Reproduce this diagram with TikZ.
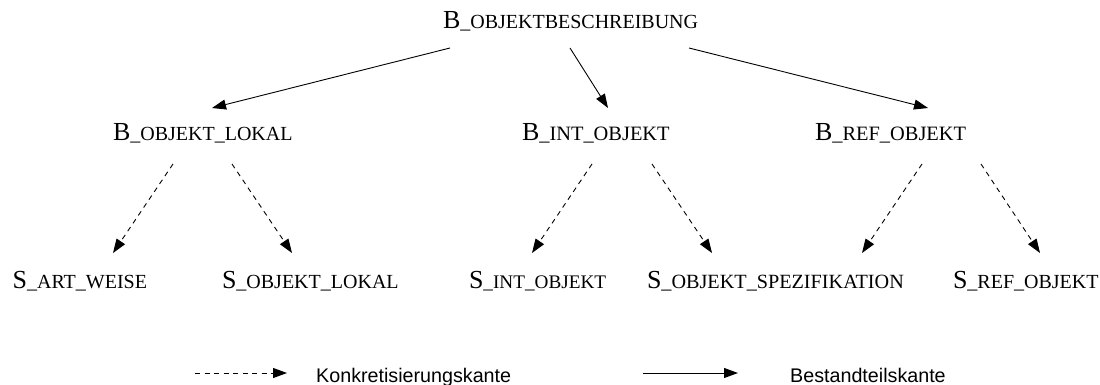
\documentclass[tikz,border=0pt]{standalone}
\usepackage{fontspec}
\setmainfont{Liberation Serif}
\newfontfamily\legendfont{Liberation Sans}
\usetikzlibrary{arrows.meta}
\newcommand{\lbl}[3][20]{{\fontsize{26}{26}\selectfont #2}{\fontsize{#1}{#1}\selectfont\_#3}}
\tikzset{
  lab/.style={anchor=base west, inner sep=0pt, outer sep=0pt},
  leg/.style={anchor=base west, inner sep=0pt, font=\legendfont\fontsize{19.7}{20}\selectfont},
  solidarrow/.style={line width=0.9pt, -{Triangle[length=14pt,width=10pt]}},
  dasharrow/.style={line width=0.9pt, dash pattern=on 5pt off 4.5pt, -{Triangle[length=14pt,width=10pt]}},
}
\begin{document}
\begin{tikzpicture}[x=1pt,y=-1pt]
\useasboundingbox (0,0) rectangle (1100,385);
% nodes
\node[lab] (top) at (443,29) {\lbl{B}{OBJEKTBESCHREIBUNG}};
\node[lab] (lokal) at (113,140) {\lbl{B}{OBJEKT\_LOKAL}};
\node[lab] (int) at (522,140) {\lbl[20.4]{B}{INT\_OBJEKT}};
\node[lab] (ref) at (815,140) {\lbl[20.4]{B}{REF\_OBJEKT}};
\node[lab, anchor=base east] (sart) at (147,288) {\lbl{S}{ART\_WEISE}};
\node[lab] (slokal) at (222,288) {\lbl{S}{OBJEKT\_LOKAL}};
\node[lab] (sint) at (469,288) {\lbl[19.2]{S}{INT\_OBJEKT}};
\node[lab] (sspez) at (647,288) {\lbl[20.2]{S}{OBJEKT\_SPEZIFIKATION}};
\node[lab] (sref) at (953,288) {\lbl{S}{REF\_OBJEKT}};
% solid connectors
\draw[solidarrow] ([shift={(7,19)}]top.base west) -- ([shift={(99,-32)}]lokal.base west);
\draw[solidarrow] ([shift={(127,19)}]top.base west) -- ([shift={(86,-32)}]int.base west);
\draw[solidarrow] ([shift={(246,19)}]top.base west) -- ([shift={(113,-32)}]ref.base west);
% dashed connectors
\draw[dasharrow] ([shift={(60,24)}]lokal.base west) -- ([shift={(-34,-35)}]sart.base east);
\draw[dasharrow] ([shift={(119,24)}]lokal.base west) -- ([shift={(70,-35)}]slokal.base west);
\draw[dasharrow] ([shift={(70,24)}]int.base west) -- ([shift={(63,-35)}]sint.base west);
\draw[dasharrow] ([shift={(130,24)}]int.base west) -- ([shift={(65,-35)}]sspez.base west);
\draw[dasharrow] ([shift={(107,24)}]ref.base west) -- ([shift={(215,-35)}]sspez.base west);
\draw[dasharrow] ([shift={(166,24)}]ref.base west) -- ([shift={(87,-35)}]sref.base west);
% legend
\coordinate (l1a) at (195,373);
\coordinate (l1b) at (287,373);
\coordinate (l2a) at (643,373);
\coordinate (l2b) at (738,373);
\draw[dasharrow] (l1a) -- (l1b);
\draw[solidarrow] (l2a) -- (l2b);
\node[leg] (k) at (316,382) {Konkretisierungskante};
\node[leg] (b) at (790,382) {Bestandteilskante};
\end{tikzpicture}
\end{document}
